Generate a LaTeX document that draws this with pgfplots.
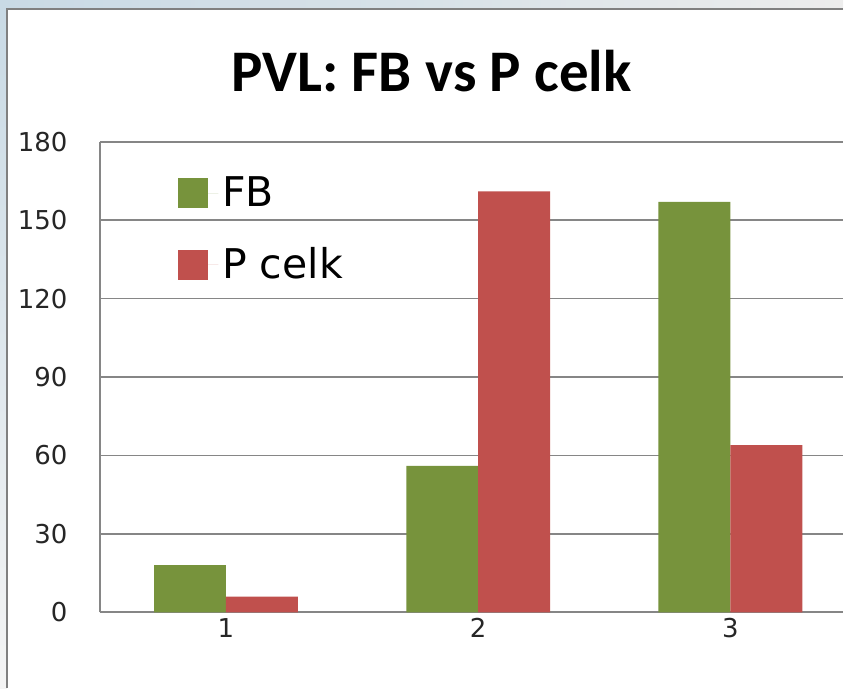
\documentclass[border=0pt]{standalone}
\usepackage{fontspec}
\setmainfont{DejaVu Sans}
\newfontfamily\titlefont{Carlito}
\usepackage{pgfplots}
\pgfplotsset{compat=1.18}
\definecolor{fbgreen}{RGB}{119,147,60}
\definecolor{pcred}{RGB}{192,80,77}
\definecolor{gridgray}{RGB}{134,134,134}
\definecolor{bgblue}{RGB}{201,218,229}
\definecolor{bggray}{RGB}{237,237,237}
\begin{document}
\begin{tikzpicture}
% background: 844x689 px at 0.5pt per px
\fill[white] (0pt,0pt) rectangle (422pt,344.5pt);
\shade[left color=bgblue, right color=bggray, middle color=bgblue!60!bggray] (0pt,339.5pt) rectangle (422pt,344.5pt);
\shade[top color=bgblue, bottom color=bggray!60!white] (0pt,0pt) rectangle (3.5pt,339.5pt);
\draw[gray, line width=1pt] (3.5pt,0pt) -- (3.5pt,339.75pt) -- (422pt,339.75pt);
\begin{axis}[
  at={(50pt,38pt)}, anchor=origin,
  scale only axis,
  width=372pt, height=235.5pt,
  xmin=0.5, xmax=3.4465,
  ymin=0, ymax=180,
  axis x line*=bottom, axis y line*=left,
  axis line style={draw=gridgray, line width=0.8pt},
  ytick={0,30,60,90,120,150,180},
  xtick={1,2,3},
  major tick length=0pt,
  ymajorgrids,
  grid style={draw=gridgray, line width=0.8pt},
  /pgf/number format/assume math mode=true,
  tick label style={font=\fontsize{13}{15}\selectfont, text=black!85},
  yticklabel style={anchor=east, inner sep=0pt, xshift=-16pt},
  xticklabel style={anchor=north, inner sep=0pt, yshift=-3pt},
  ybar=0pt,
  bar width=36pt,
  legend style={at={(rel axis cs:0.105,0.935)}, anchor=north west, draw=none, fill=none,
    font=\fontsize{20.5}{23}\selectfont, row sep=15pt, inner sep=0pt},
  legend cell align=left,
  legend image code/.code={\fill[#1] (0pt,-7.5pt) rectangle (15pt,7.5pt); \path (0pt,0pt) -- (20pt,0pt);},
  clip=false,
]
\addplot[draw=none, fill=fbgreen] coordinates {(1,18) (2,56) (3,157)};
\addplot[draw=none, fill=pcred] coordinates {(1,6) (2,161) (3,64)};
\legend{FB,P celk}
\end{axis}
\node[font=\titlefont\bfseries\fontsize{29.5}{33}\selectfont] at (216pt,309pt) {PVL: FB vs P celk};
\end{tikzpicture}
\end{document}
